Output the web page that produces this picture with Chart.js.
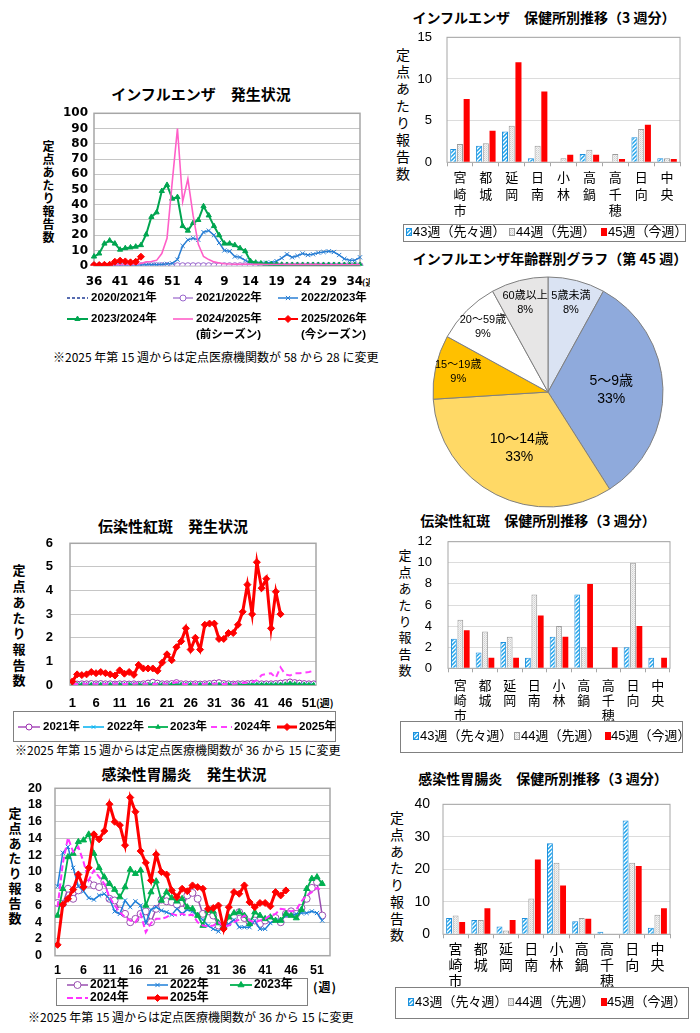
<!DOCTYPE html>
<html lang="ja">
<head>
<meta charset="utf-8">
<title>感染症発生状況</title>
<script src="https://cdn.jsdelivr.net/npm/chart.js@4.4.1/dist/chart.umd.min.js"></script>
<style>
  html, body { margin: 0; padding: 0; background: #fff; }
  body { position: relative; width: 700px; height: 1033px; overflow: hidden;
         font-family: 'Liberation Sans', 'Noto Sans CJK JP', sans-serif; color: #000; }
  canvas { position: absolute; }
  .lbl { position: absolute; white-space: nowrap; line-height: 1; }
  .ttl { font-weight: bold; transform: translate(-50%, -50%); font-family: 'Noto Sans CJK JP', sans-serif; }
  .note { transform: translateY(-50%); font-size: 12px; font-family: 'Noto Sans CJK JP', sans-serif; }
  .vert { writing-mode: vertical-rl; font-family: 'Noto Sans CJK JP', sans-serif; }
  .wk { transform: translateY(-50%); font-weight: bold; font-family: 'Noto Sans CJK JP', sans-serif; }
</style>
</head>
<body>
<!-- titles -->
<div class="lbl ttl" style="left:201px;top:93px;font-size:15px">インフルエンザ　発生状況</div>
<div class="lbl ttl" style="left:544px;top:17px;font-size:14px">インフルエンザ　保健所別推移（3 週分）</div>
<div class="lbl ttl" style="left:550px;top:258px;font-size:14px">インフルエンザ年齢群別グラフ（第 45 週）</div>
<div class="lbl ttl" style="left:173px;top:525px;font-size:15px">伝染性紅斑　発生状況</div>
<div class="lbl ttl" style="left:538px;top:520px;font-size:14px">伝染性紅斑　保健所別推移（3 週分）</div>
<div class="lbl ttl" style="left:184px;top:773px;font-size:15px">感染性胃腸炎　発生状況</div>
<div class="lbl ttl" style="left:543px;top:778px;font-size:14px">感染性胃腸炎　保健所別推移（3 週分）</div>

<!-- vertical axis titles -->
<div class="lbl vert" style="left:42px;top:140px;font-size:12px;letter-spacing:1.1px;font-weight:bold">定点あたり報告数</div>
<div class="lbl vert" style="left:396px;top:48px;font-size:14px;letter-spacing:3px">定点あたり報告数</div>
<div class="lbl vert" style="left:12.5px;top:563.5px;font-size:13px;letter-spacing:2.7px;font-weight:bold">定点あたり報告数</div>
<div class="lbl vert" style="left:398.5px;top:548.5px;font-size:13px;letter-spacing:3.4px">定点あたり報告数</div>
<div class="lbl vert" style="left:8.5px;top:806.5px;font-size:13px;letter-spacing:1.9px;font-weight:bold">定点あたり報告数</div>
<div class="lbl vert" style="left:390px;top:811px;font-size:14px;letter-spacing:2.7px">定点あたり報告数</div>

<!-- week unit marks -->
<div class="lbl wk" style="left:362px;top:282px;width:8px;overflow:hidden;font-size:9px">(週)</div>
<div class="lbl wk" style="left:316px;top:703px;font-size:10px">(週)</div>
<div class="lbl wk" style="left:313px;top:987px;font-size:12px;letter-spacing:1px">(週)</div>

<!-- notes -->
<div class="lbl note" style="left:53px;top:357px">※2025 年第 15 週からは定点医療機関数が 58 から 28 に変更</div>
<div class="lbl note" style="left:15px;top:750px">※2025 年第 15 週からは定点医療機関数が 36 から 15 に変更</div>
<div class="lbl note" style="left:28px;top:1017px">※2025 年第 15 週からは定点医療機関数が 36 から 15 に変更</div>

<script>
// ---------------- data ----------------
// インフルエンザ (week 36 -> week 35 of next year)
const infWeeks = [36,37,38,39,40,41,42,43,44,45,46,47,48,49,50,51,52,1,2,3,4,5,6,7,8,9,10,11,12,13,14,15,16,17,18,19,20,21,22,23,24,25,26,27,28,29,30,31,32,33,34,35];
const infTicks = [36,41,46,51,4,9,14,19,24,29,34];
const infSeasons = ['2020/2021年','2021/2022年','2022/2023年','2023/2024年','2024/2025年','2025/2026年'];
const infSeasonNotes = ['','','','','(前シーズン)','(今シーズン)'];
const inf2020 = [0,0,0,0,0,0,0,0,0,0,0,0,0,0,0,0,0,0,0,0,0,0,0,0,0,0,0,0,0,0,0,0,0,0,0,0,0,0,0,0,0,0,0,0,0,0,0,0,0,0,0,0];
const inf2021 = [0,0,0,0,0,0,0,0,0,0,0,0,0,0,0,0,0,0,0,0,0,0,0,0,0,0,0,0,0,0,0,0,0,0,0,0,0,0,0,0,0,0,0,0,0,0,0,0,0,0,0,0];
const inf2022 = [0.3,0.3,0.4,0.4,0.5,0.5,0.5,0.5,0.5,0.5,0.6,0.6,0.7,0.8,1.2,1.5,4,13,17,18,17,22,23,20,15,10,9.5,6,5.5,3.5,2,1.5,1.5,2,2,3,5,7.5,5.5,6.5,8,7,7.5,8.5,9,9.5,9,7,4.5,3.5,3.5,5.5];
const inf2023 = [6,8,14.5,16.5,14.5,10.5,11.5,12,12.5,13.5,20.5,32,35,49,53,44,45,26,23,28,30,39,33,26,20,14.5,14.5,13.5,11.5,9.5,3,2,1.5,1.2,1,0.8,0.6,0.5,0.5,0.5,0.5,0.5,0.5,0.5,0.5,0.5,0.5,0.5,0.5,0.5,0.5,0.5];
const inf2024 = [0.5,0.5,0.5,0.6,0.6,0.7,0.8,0.9,1,1.5,2.5,2.8,3.5,8,18,55,90,42,57,33,14,6,4,2.5,1.8,1.3,1.1,1,1,1,1,0.9,0.9,0.8,0.8,0.8,0.8,0.7,0.7,0.7,0.7,0.7,0.7,0.7,0.6,0.6,0.6,0.6,0.6,0.6,0.6,0.6];
const inf2025 = [0.4,0.4,0.6,0.6,2.6,3.3,2.8,2.2,2.6,5.9];

// 保健所別 (43週, 44週, 45週)
const stations = ['宮崎市','都城','延岡','日南','小林','高鍋','高千穂','日向','中央'];
const weekNames = ['43週（先々週）','44週（先週）','45週（今週）'];
const infW43 = [1.6,2.0,3.7,0.5,0,1.0,0,3.0,0.5];
const infW44 = [2.2,2.3,4.4,2.0,0.5,1.5,1.0,4.0,0.5];
const infW45 = [7.6,3.8,12.0,8.5,0.9,0.9,0.4,4.5,0.4];

// 年齢群別
const ageGroups = ['5歳未満','5～9歳','10～14歳','15～19歳','20～59歳','60歳以上'];
const ageShare = [8,33,33,9,9,8];

// 伝染性紅斑 / 感染性胃腸炎 (week 1 -> 52)
const weeks = [1,2,3,4,5,6,7,8,9,10,11,12,13,14,15,16,17,18,19,20,21,22,23,24,25,26,27,28,29,30,31,32,33,34,35,36,37,38,39,40,41,42,43,44,45,46,47,48,49,50,51,52];
const weekTicks = [1,6,11,16,21,26,31,36,41,46,51];
const years = ['2021年','2022年','2023年','2024年','2025年'];

const ery2021 = [0.05,0.04,0.05,0.05,0.06,0.05,0.06,0.05,0.05,0.04,0.05,0.05,0.04,0.05,0.03,0.05,0.08,0.12,0.08,0.05,0.05,0.06,0.1,0.05,0.05,0.04,0.05,0.04,0.05,0.06,0.08,0.1,0.06,0.05,0.04,0.05,0.05,0.06,0.08,0.06,0.05,0.05,0.05,0.06,0.08,0.1,0.13,0.1,0.08,0.06,0.05,0.05];
const ery2022 = [0.02,0.02,0.02,0.02,0.02,0.02,0.02,0.02,0.02,0.02,0.02,0.02,0.02,0.02,0.02,0.02,0.02,0.02,0.02,0.02,0.02,0.02,0.02,0.02,0.02,0.02,0.02,0.02,0.02,0.02,0.02,0.02,0.02,0.02,0.02,0.02,0.02,0.02,0.02,0.02,0.02,0.02,0.02,0.02,0.02,0.02,0.03,0.02,0.02,0.02,0.02,0.02];
const ery2023 = [0.01,0.01,0.01,0.01,0.01,0.01,0.01,0.01,0.01,0.01,0.01,0.01,0.01,0.01,0.01,0.01,0.01,0.01,0.01,0.01,0.01,0.01,0.01,0.01,0.01,0.01,0.01,0.01,0.01,0.01,0.01,0.01,0.01,0.01,0.01,0.01,0.01,0.01,0.01,0.01,0.01,0.01,0.01,0.01,0.02,0.03,0.07,0.04,0.02,0.02,0.01,0.01];
const ery2024 = [0.05,0.04,0.05,0.05,0.06,0.05,0.04,0.05,0.05,0.06,0.05,0.04,0.05,0.05,0.06,0.05,0.05,0.04,0.05,0.06,0.05,0.07,0.12,0.05,0.04,0.05,0.05,0.04,0.05,0.06,0.05,0.05,0.04,0.05,0.05,0.06,0.08,0.1,0.12,0.2,0.42,0.47,0.5,0.3,0.75,0.45,0.4,0.5,0.5,0.52,0.55,0.6];
const ery2025 = [0.15,0.45,0.42,0.45,0.55,0.5,0.55,0.5,0.45,0.4,0.62,0.48,0.55,0.43,0.85,0.7,0.7,0.7,0.6,0.95,1.3,1.05,1.6,1.85,2.4,1.5,2.0,1.5,2.55,2.6,2.6,1.95,1.95,2.2,2.2,2.55,3.1,4.25,3.0,5.2,4.1,4.5,2.4,3.95,3.0];
const eryW43 = [2.8,1.5,2.5,1.0,3.0,7.0,0,2.0,1.0];
const eryW44 = [4.6,3.5,3.0,7.0,4.0,2.0,0,10.0,0];
const eryW45 = [3.6,1.0,1.0,5.0,3.0,8.0,2.0,4.0,1.0];

const gas2021 = [6.3,6.2,8.0,6.8,7.8,8.4,8.6,8.4,8.2,8.9,6.8,6.6,5.4,5.0,4.0,4.4,5.0,5.3,4.0,5.6,6.7,6.5,6.4,6.1,5.5,7.2,7.5,6.8,5.0,5.3,4.8,3.6,3.5,4.2,4.6,5.2,4.5,4.0,4.2,3.8,4.2,4.4,4.5,4.0,5.0,5.3,5.0,5.7,6.8,8.1,8.8,4.8];
const gas2022 = [8.3,12.3,13.0,10.5,8.3,7.7,6.9,6.7,7.2,7.4,6.8,5.3,5.0,6.6,5.8,6.5,6.0,3.9,5.5,5.8,5.4,5.2,4.9,5.6,5.0,5.5,5.3,4.7,4.3,3.6,3.2,2.9,3.5,3.8,4.3,3.4,3.4,3.4,4.2,3.2,3.2,3.9,4.2,4.2,4.8,4.8,5.0,5.1,5.1,5.3,5.1,4.2];
const gas2023 = [4.8,8.0,11.8,12.2,13.6,13.8,14.5,12.2,10.5,9.4,8.6,7.9,7.0,8.2,10.3,9.8,10.2,6.0,7.6,8.9,6.6,7.6,6.9,6.5,6.8,5.8,5.6,4.8,3.6,5.4,5.3,3.9,3.5,4.6,5.1,5.2,4.8,3.8,5.2,4.8,4.4,4.6,4.2,4.2,5.0,4.8,4.5,5.5,8.0,9.2,9.4,8.6];
const gas2024 = [5.8,11.0,14.1,12.4,13.0,11.2,9.0,10.2,9.4,8.6,7.0,6.0,5.2,4.6,4.2,4.0,5.0,2.8,3.9,4.4,4.4,4.6,5.0,4.8,5.0,4.8,4.9,4.0,3.6,3.5,3.6,4.0,3.5,3.6,4.0,4.3,4.8,4.2,4.0,4.2,4.4,4.8,5.0,5.6,5.5,5.3,5.5,6.5,7.2,7.6,8.1,7.8];
const gas2025 = [1.3,6.1,6.8,7.9,9.7,8.2,10.5,14.5,13.9,14.9,18.1,16.0,15.6,13.2,18.9,17.2,12.5,11.1,9.0,12.1,10.0,9.7,7.8,7.0,8.0,7.7,8.4,8.2,8.0,5.6,5.7,6.0,3.2,5.8,7.6,7.4,8.4,6.4,5.8,6.3,6.3,5.9,7.6,7.2,7.8];
const gasW43 = [5.0,4.4,2.4,5.0,28.0,4.0,0.8,35.0,2.0];
const gasW44 = [5.8,4.4,1.2,11.0,22.0,5.0,0,22.0,6.0];
const gasW45 = [3.8,8.0,4.4,23.0,15.0,4.8,0,21.0,8.0];

// ---------------- setup ----------------
const FONT = "'Liberation Sans','Noto Sans CJK JP',sans-serif";
Chart.defaults.font.family = FONT;
Chart.defaults.color = '#000';
Chart.defaults.animation = false;
Chart.defaults.events = [];
Chart.defaults.plugins.legend.display = false;
Chart.defaults.plugins.tooltip.enabled = false;

function place(x, y, w, h) {
  const cv = document.createElement('canvas');
  cv.width = w;
  cv.height = h;
  cv.style.left = x + 'px';
  cv.style.top = y + 'px';
  document.body.appendChild(cv);
  return cv;
}

// hatched fill for 43週, speckled grey for 44週
function hatch() {
  const c = document.createElement('canvas');
  c.width = c.height = 4;
  const g = c.getContext('2d');
  g.fillStyle = '#fff';
  g.fillRect(0, 0, 4, 4);
  g.strokeStyle = '#1ea4ec';
  g.lineWidth = 1.5;
  g.beginPath();
  g.moveTo(0, 4); g.lineTo(4, 0);
  g.moveTo(-1, 1); g.lineTo(1, -1);
  g.moveTo(3, 5); g.lineTo(5, 3);
  g.stroke();
  return g.createPattern(c, 'repeat');
}
function speckle() {
  const c = document.createElement('canvas');
  c.width = c.height = 2;
  const g = c.getContext('2d');
  g.fillStyle = '#f3f3f3';
  g.fillRect(0, 0, 2, 2);
  g.fillStyle = '#cfcfcf';
  g.fillRect(0, 0, 1, 1);
  g.fillStyle = '#e0e0e0';
  g.fillRect(1, 1, 1, 1);
  return g.createPattern(c, 'repeat');
}
const HATCH = hatch();
const SPECKLE = speckle();

// plot frame + hand placed legend
const deco = {
  id: 'deco',
  beforeDatasetsDraw(chart, args, o) {
    const a = chart.chartArea, ctx = chart.ctx;
    ctx.save();
    ctx.strokeStyle = '#a6a6a6';
    ctx.lineWidth = o.frameWidth || 1;
    ctx.strokeRect(a.left, a.top, a.right - a.left, a.bottom - a.top);
    ctx.restore();
  },
  afterDraw(chart, args, o) {
    const ctx = chart.ctx, ox = o.origin[0], oy = o.origin[1];
    ctx.save();
    if (o.box) {
      ctx.strokeStyle = '#808080';
      ctx.lineWidth = 1;
      ctx.strokeRect(o.box[0] - ox + 0.5, o.box[1] - oy + 0.5, o.box[2] - o.box[0], o.box[3] - o.box[1]);
    }
    ctx.textBaseline = 'middle';
    ctx.textAlign = 'left';
    o.items.forEach(it => {
      const ds = chart.data.datasets[it.ds];
      const y = it.y - oy;
      if (it.x2) {
        ctx.save();
        ctx.strokeStyle = ds.borderColor;
        ctx.lineWidth = ds.borderWidth;
        ctx.setLineDash(ds.borderDash || []);
        ctx.beginPath();
        ctx.moveTo(it.x1 - ox, y);
        ctx.lineTo(it.x2 - ox, y);
        ctx.stroke();
        ctx.restore();
        if (ds.pointRadius) {
          ctx.save();
          ctx.fillStyle = ds.pointBackgroundColor;
          ctx.strokeStyle = ds.pointBorderColor;
          ctx.lineWidth = ds.pointBorderWidth;
          Chart.helpers.drawPoint(ctx, {
            pointStyle: ds.pointStyle, radius: ds.pointRadius, rotation: 0, borderWidth: ds.pointBorderWidth
          }, (it.x1 + it.x2) / 2 - ox, y);
          ctx.restore();
        }
      } else {
        ctx.fillStyle = ds.backgroundColor;
        ctx.fillRect(it.x - ox, y - 4, 6, 8);
        if (ds.borderWidth) {
          ctx.strokeStyle = ds.borderColor;
          ctx.lineWidth = 1;
          ctx.strokeRect(it.x - ox + 0.5, y - 3.5, 5, 7);
        }
      }
      ctx.font = o.font;
      ctx.fillStyle = '#000';
      ctx.fillText(ds.label, it.tx - ox, y);
      if (it.sub) ctx.fillText(it.sub, it.tx - ox, y + 16);
    });
    ctx.restore();
  }
};

function lineDs(label, data, color, extra) {
  return Object.assign({
    label, data,
    borderColor: color, pointBorderColor: color, pointBackgroundColor: color,
    borderWidth: 1.5, pointRadius: 0, pointBorderWidth: 1, tension: 0, fill: false
  }, extra);
}

// ---------------- インフルエンザ 発生状況 ----------------
(function () {
  const box = {x: 0, y: 80, w: 370, h: 290};
  const area = {L: 94, T: 113.3, R: 360, B: 265.7};
  const cv = place(box.x, box.y, box.w, box.h);
  const tickFont = {family: 'DejaVu Sans', size: 12, weight: 'bold'};
  new Chart(cv, {
    type: 'line',
    data: {
      labels: infWeeks,
      datasets: [
        lineDs(infSeasons[0], inf2020, '#203c96', {borderDash: [3, 2], borderWidth: 1.3, order: 6}),
        lineDs(infSeasons[1], inf2021, '#9966cc', {pointRadius: 3, pointStyle: 'circle', pointBackgroundColor: '#fff', borderWidth: 1.2, order: 5}),
        lineDs(infSeasons[2], inf2022, '#2a7fd4', {pointRadius: 3, pointStyle: 'crossRot', order: 4}),
        lineDs(infSeasons[3], inf2023, '#00a550', {pointRadius: 3, pointStyle: 'triangle', borderWidth: 2, order: 3}),
        lineDs(infSeasons[4], inf2024, '#ff5fc8', {borderWidth: 1.6, order: 2}),
        lineDs(infSeasons[5], inf2025, '#ff0000', {pointRadius: 3.5, pointStyle: 'rectRot', borderWidth: 2, order: 1})
      ]
    },
    options: {
      responsive: false,
      layout: {padding: {left: 0, top: area.T - box.y, right: box.x + box.w - area.R, bottom: 0}},
      scales: {
        x: {
          type: 'category', offset: false,
          grid: {display: false, drawTicks: false}, border: {display: false},
          ticks: {
            autoSkip: false, maxRotation: 0, padding: 9, font: tickFont, color: '#000',
            callback(v) { const w = this.getLabelForValue(v); return infTicks.includes(w) ? String(w) : ''; }
          },
          afterFit: s => { s.height = box.y + box.h - area.B; }
        },
        y: {
          min: 0, max: 100,
          ticks: {stepSize: 10, autoSkip: false, padding: 6, font: tickFont, color: '#000'},
          grid: {color: '#c6c6c6', drawTicks: false}, border: {display: false},
          afterFit: s => { s.width = area.L - box.x; }
        }
      },
      plugins: {
        deco: {
          origin: [box.x, box.y], frameWidth: 1.5,
          font: "bold 11.5px " + FONT,
          items: [
            {ds: 0, x1: 67, x2: 88, y: 298, tx: 91},
            {ds: 1, x1: 173, x2: 193, y: 298, tx: 196},
            {ds: 2, x1: 278, x2: 298, y: 298, tx: 301},
            {ds: 3, x1: 67, x2: 88, y: 319, tx: 91},
            {ds: 4, x1: 173, x2: 193, y: 319, tx: 196, sub: infSeasonNotes[4]},
            {ds: 5, x1: 278, x2: 298, y: 319, tx: 301, sub: infSeasonNotes[5]}
          ]
        }
      }
    },
    plugins: [deco]
  });
})();

// ---------------- 保健所別 bar charts ----------------
function stationChart(box, area, w43, w44, w45, yMax, yStep, tick, cat, legend) {
  const cv = place(box.x, box.y, box.w, box.h);
  const common = {categoryPercentage: 0.78, barPercentage: 0.9};
  new Chart(cv, {
    type: 'bar',
    data: {
      labels: stations.map(s => Array.from(s)),
      datasets: [
        Object.assign({label: weekNames[0], data: w43, backgroundColor: HATCH, borderColor: '#1e8fdc', borderWidth: 1}, common),
        Object.assign({label: weekNames[1], data: w44, backgroundColor: SPECKLE, borderColor: '#9a9a9a', borderWidth: 1}, common),
        Object.assign({label: weekNames[2], data: w45, backgroundColor: '#ff0000', borderColor: '#ff0000', borderWidth: 0}, common)
      ]
    },
    options: {
      responsive: false,
      layout: {padding: {left: 0, top: area.T - box.y, right: box.x + box.w - area.R, bottom: 0}},
      scales: {
        x: {
          type: 'category', offset: true,
          grid: {display: true, drawOnChartArea: false, offset: true, tickLength: 4, color: '#a6a6a6'},
          border: {display: false},
          ticks: {autoSkip: false, maxRotation: 0, padding: cat.pad, color: '#000',
                  font: {family: "'Noto Sans CJK JP',sans-serif", size: cat.size, lineHeight: cat.lh}},
          afterFit: s => { s.height = box.y + box.h - area.B; }
        },
        y: {
          min: 0, max: yMax,
          ticks: {stepSize: yStep, autoSkip: false, padding: tick.pad, color: '#000', font: {size: tick.size}},
          grid: {color: '#dcdcdc', drawTicks: false}, border: {display: false},
          afterFit: s => { s.width = area.L - box.x; }
        }
      },
      plugins: {
        deco: Object.assign({origin: [box.x, box.y], font: "13px " + FONT}, legend)
      }
    },
    plugins: [deco]
  });
}

stationChart({x: 380, y: 0, w: 320, h: 250}, {L: 447, T: 37.3, R: 680, B: 162.3},
  infW43, infW44, infW45, 15, 5, {size: 13, pad: 15}, {size: 13, lh: 1.27, pad: 2.5},
  {box: [403, 224, 685, 241], items: [
    {ds: 0, x: 406, y: 232, tx: 413}, {ds: 1, x: 509, y: 232, tx: 516}, {ds: 2, x: 601, y: 232, tx: 608}]});

stationChart({x: 380, y: 505, w: 320, h: 255}, {L: 448, T: 541.7, R: 670, B: 668.3},
  eryW43, eryW44, eryW45, 12, 2, {size: 13, pad: 16}, {size: 13, lh: 1.154, pad: 5},
  {box: [400, 721, 682, 752], items: [
    {ds: 0, x: 413, y: 736, tx: 420}, {ds: 1, x: 514, y: 736, tx: 521}, {ds: 2, x: 605, y: 736, tx: 611}]});

stationChart({x: 380, y: 765, w: 320, h: 268}, {L: 443, T: 804.3, R: 670, B: 934.3},
  gasW43, gasW44, gasW45, 40, 10, {size: 14, pad: 13}, {size: 14, lh: 1.143, pad: 2.7},
  {box: [395, 987, 688, 1018], items: [
    {ds: 0, x: 408, y: 1002, tx: 415}, {ds: 1, x: 508, y: 1002, tx: 515}, {ds: 2, x: 601, y: 1002, tx: 607}]});

// ---------------- 年齢群別 pie ----------------
(function () {
  const cv = place(400, 240, 300, 272);
  const pieLabels = {
    id: 'pieLabels',
    afterDatasetsDraw(chart) {
      const ctx = chart.ctx, vals = chart.data.datasets[0].data;
      chart.getDatasetMeta(0).data.forEach((arc, i) => {
        const p = arc.getProps(['x', 'y', 'startAngle', 'endAngle', 'outerRadius'], true);
        const mid = (p.startAngle + p.endAngle) / 2;
        const big = vals[i] >= 20;
        const r = p.outerRadius * (big ? 0.55 : 0.8);
        const x = p.x + Math.cos(mid) * r, y = p.y + Math.sin(mid) * r;
        const fs = big ? 14 : 11;
        ctx.save();
        ctx.font = fs + 'px ' + FONT;
        ctx.fillStyle = '#000';
        ctx.textAlign = 'center';
        ctx.textBaseline = 'middle';
        ctx.fillText(chart.data.labels[i], x, y - fs * 0.65);
        ctx.fillText(vals[i] + '%', x, y + fs * 0.65);
        ctx.restore();
      });
    }
  };
  new Chart(cv, {
    type: 'pie',
    data: {
      labels: ageGroups,
      datasets: [{
        data: ageShare,
        backgroundColor: ['#dae3f3', '#8faadc', '#ffd966', '#ffc000', '#ffffff', '#e7e6e6'],
        borderColor: '#7f7f7f',
        borderWidth: 1
      }]
    },
    options: {
      responsive: false,
      radius: 115,
      layout: {padding: {left: 33, top: 37, right: 37, bottom: 5}}
    },
    plugins: [pieLabels]
  });
})();

// ---------------- weekly line charts (1-52週) ----------------
function weeklyChart(box, area, yMax, yStep, tickFont, xPad, yPad, xMax, datasets, legend) {
  const cv = place(box.x, box.y, box.w, box.h);
  new Chart(cv, {
    type: 'line',
    data: {labels: weeks, datasets},
    options: {
      responsive: false,
      layout: {padding: {left: 0, top: area.T - box.y, right: box.x + box.w - area.R, bottom: 0}},
      scales: {
        x: {
          type: 'linear', min: 0.5, max: xMax,
          afterBuildTicks: s => { s.ticks = weekTicks.map(v => ({value: v})); },
          grid: {display: false, drawTicks: false}, border: {display: false},
          ticks: {autoSkip: false, maxRotation: 0, padding: xPad, font: tickFont, color: '#000'},
          afterFit: s => { s.height = box.y + box.h - area.B; }
        },
        y: {
          min: 0, max: yMax,
          ticks: {stepSize: yStep, autoSkip: false, padding: yPad, font: tickFont, color: '#000'},
          grid: {color: '#c6c6c6', drawTicks: false}, border: {display: false},
          afterFit: s => { s.width = area.L - box.x; }
        }
      },
      plugins: {
        deco: Object.assign({origin: [box.x, box.y], frameWidth: 1.5}, legend)
      }
    },
    plugins: [deco]
  });
}

// 伝染性紅斑
weeklyChart({x: 0, y: 510, w: 370, h: 250}, {L: 70, T: 543.3, R: 316, B: 685}, 6, 1,
  {size: 13, weight: 'bold'}, 10.2, 17, 52.5,
  [
    lineDs(years[0], ery2021, '#9b30b0', {pointRadius: 3, pointStyle: 'circle', pointBackgroundColor: '#fff', borderWidth: 1.3, order: 5}),
    lineDs(years[1], ery2022, '#00b0f0', {pointRadius: 2.5, pointStyle: 'crossRot', order: 4}),
    lineDs(years[2], ery2023, '#00b050', {pointRadius: 2.5, pointStyle: 'triangle', borderWidth: 1.8, order: 3}),
    lineDs(years[3], ery2024, '#ff40ff', {borderDash: [6, 4], borderWidth: 2, order: 2}),
    lineDs(years[4], ery2025, '#ff0000', {pointRadius: 3.5, pointStyle: 'rectRot', borderWidth: 3, order: 1})
  ],
  {font: "bold 11.5px " + FONT, box: [13, 711, 335, 741], items: [
    {ds: 0, x1: 18, x2: 40, y: 727, tx: 43},
    {ds: 1, x1: 83, x2: 104, y: 727, tx: 107},
    {ds: 2, x1: 148, x2: 168, y: 727, tx: 170},
    {ds: 3, x1: 211, x2: 232, y: 727, tx: 234},
    {ds: 4, x1: 277, x2: 297, y: 727, tx: 299}
  ]});

// 感染性胃腸炎
weeklyChart({x: 0, y: 760, w: 370, h: 273}, {L: 55, T: 788.3, R: 330, B: 955.7}, 20, 2,
  {size: 12.5, weight: 'bold'}, 7.8, 13, 53.5,
  [
    lineDs(years[0], gas2021, '#9a4fb0', {pointRadius: 3.5, pointStyle: 'circle', pointBackgroundColor: '#fff', borderWidth: 1.5, order: 5}),
    lineDs(years[1], gas2022, '#1e7fd8', {pointRadius: 3, pointStyle: 'crossRot', borderWidth: 1.5, order: 4}),
    lineDs(years[2], gas2023, '#00b050', {pointRadius: 3.5, pointStyle: 'triangle', borderWidth: 1.8, order: 3}),
    lineDs(years[3], gas2024, '#ff33ff', {borderDash: [6, 3], borderWidth: 2, order: 2}),
    lineDs(years[4], gas2025, '#ff0000', {pointRadius: 3.5, pointStyle: 'rectRot', borderWidth: 3, order: 1})
  ],
  {font: "bold 12px " + FONT, box: [56, 978, 307, 1005], items: [
    {ds: 0, x1: 67, x2: 88, y: 985, tx: 90},
    {ds: 1, x1: 147, x2: 168, y: 985, tx: 170},
    {ds: 2, x1: 230, x2: 252, y: 985, tx: 254},
    {ds: 3, x1: 67, x2: 88, y: 998, tx: 90},
    {ds: 4, x1: 147, x2: 168, y: 998, tx: 170}
  ]});
</script>
</body>
</html>
